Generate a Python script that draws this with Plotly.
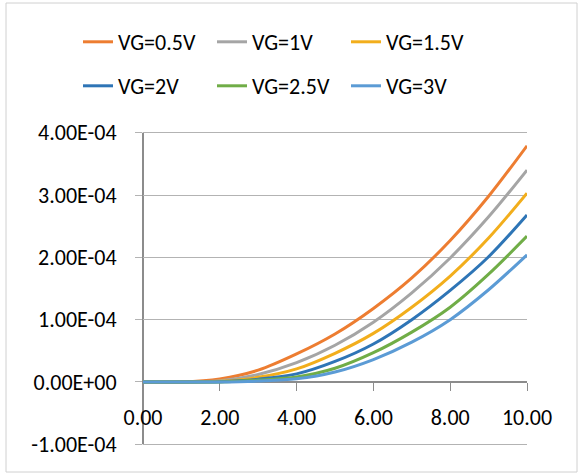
import plotly.graph_objects as go

# ---- data ----
vd = [0, 1, 2, 3, 4, 5, 6, 7, 8, 9, 10]
series_names = ["VG=0.5V", "VG=1V", "VG=1.5V", "VG=2V", "VG=2.5V", "VG=3V"]
id_vg05 = [0, 0.0, 0.05e-4, 0.19e-4, 0.45e-4, 0.77e-4, 1.18e-4, 1.67e-4, 2.27e-4, 2.98e-4, 3.79e-4]
id_vg10 = [0, 0.0, 0.02e-4, 0.12e-4, 0.31e-4, 0.59e-4, 0.96e-4, 1.43e-4, 1.99e-4, 2.65e-4, 3.40e-4]
id_vg15 = [0, 0.0, 0.01e-4, 0.075e-4, 0.21e-4, 0.46e-4, 0.78e-4, 1.20e-4, 1.70e-4, 2.31e-4, 3.03e-4]
id_vg20 = [0, 0.0, 0.005e-4, 0.045e-4, 0.13e-4, 0.33e-4, 0.61e-4, 1.00e-4, 1.47e-4, 2.01e-4, 2.68e-4]
id_vg25 = [0, 0.0, 0.0, 0.03e-4, 0.08e-4, 0.22e-4, 0.47e-4, 0.80e-4, 1.20e-4, 1.73e-4, 2.34e-4]
id_vg30 = [0, 0.0, 0.0, 0.015e-4, 0.05e-4, 0.16e-4, 0.36e-4, 0.64e-4, 1.00e-4, 1.48e-4, 2.04e-4]

x_tick_vals = [0, 2, 4, 6, 8, 10]
x_tick_text = ["0.00", "2.00", "4.00", "6.00", "8.00", "10.00"]
y_tick_vals = [-1e-4, 0, 1e-4, 2e-4, 3e-4, 4e-4]
y_tick_text = ["-1.00E-04", "0.00E+00", "1.00E-04", "2.00E-04", "3.00E-04", "4.00E-04"]

colors = ["#ED7D31", "#A5A5A5", "#F2AE1C", "#2E75B6", "#70AD47", "#5B9BD5"]
all_series = [id_vg05, id_vg10, id_vg15, id_vg20, id_vg25, id_vg30]

FONT = "Carlito, Lato, sans-serif"
FS = 22
W, H = 579, 473
L, R, T, B = 143, 52, 131, 27
PW, PH = W - L - R, H - T - B
Y_TOP_PX, Y_BOT_PX = 132.7, 444.3           # where 4e-4 and -1e-4 sit
UNIT = (Y_BOT_PX - Y_TOP_PX) / 5e-4         # px per unit
y_range = [-1e-4 - (H - B - Y_BOT_PX) / UNIT, 4e-4 + (Y_TOP_PX - T) / UNIT]

def px_x(p):
    return (p - L) / PW

def px_y(p):
    return (H - B - p) / PH

fig = go.Figure()
for i, (name, ys, c) in enumerate(zip(series_names, all_series, colors)):
    fig.add_trace(go.Scatter(
        x=vd, y=ys, name=name, mode="lines",
        line=dict(color=c, width=3, shape="spline", smoothing=0.9),
        legend="legend" if i < 3 else "legend2",
    ))

legend_common = dict(
    orientation="h", entrywidth=89, entrywidthmode="pixels",
    xanchor="left", yanchor="middle", font=dict(family=FONT, size=FS, color="#000000"),
    bgcolor="rgba(0,0,0,0)", itemclick=False, itemdoubleclick=False,
)

fig.update_layout(
    width=W, height=H,
    margin=dict(l=L, r=R, t=T, b=B, autoexpand=False),
    paper_bgcolor="white", plot_bgcolor="white",
    font=dict(family=FONT, size=FS, color="#000000"),
    showlegend=True,
    legend=dict(x=px_x(78), y=px_y(42), **legend_common),
    legend2=dict(x=px_x(78), y=px_y(86), **legend_common),
    xaxis=dict(
        range=[0, 10], tickvals=x_tick_vals, ticktext=x_tick_text,
        showgrid=False, zeroline=False, showline=True, linecolor="#8C8C8C", linewidth=2,
        ticks="outside", ticklen=8, tickcolor="#8C8C8C", tickwidth=1,
        anchor="free", position=px_y(382.3), layer="below traces",
        ticklabelstandoff=7,
        tickfont=dict(family=FONT, size=FS, color="#000000"),
    ),
    yaxis=dict(
        range=y_range, tickvals=y_tick_vals, ticktext=y_tick_text,
        showgrid=True, gridcolor="#B3B3B3", gridwidth=1,
        zeroline=False, showline=False,
        ticks="outside", ticklen=7, tickcolor="#B3B3B3", tickwidth=1,
        ticklabelstandoff=14, layer="below traces",
        tickfont=dict(family=FONT, size=FS, color="#000000"),
    ),
    shapes=[
        dict(type="rect", xref="paper", yref="paper", layer="below",
             x0=px_x(6), x1=px_x(577), y0=px_y(472), y1=px_y(3),
             line=dict(color="#D0D0D0", width=1), fillcolor="rgba(0,0,0,0)"),
        dict(type="line", xref="paper", yref="paper", layer="below",
             x0=0, x1=0, y0=px_y(Y_BOT_PX), y1=px_y(Y_TOP_PX),
             line=dict(color="#8C8C8C", width=2)),
    ],
)

fig.write_html("out.html", post_script="document.body.style.margin='0px';",
               config={"displayModeBar": False})
